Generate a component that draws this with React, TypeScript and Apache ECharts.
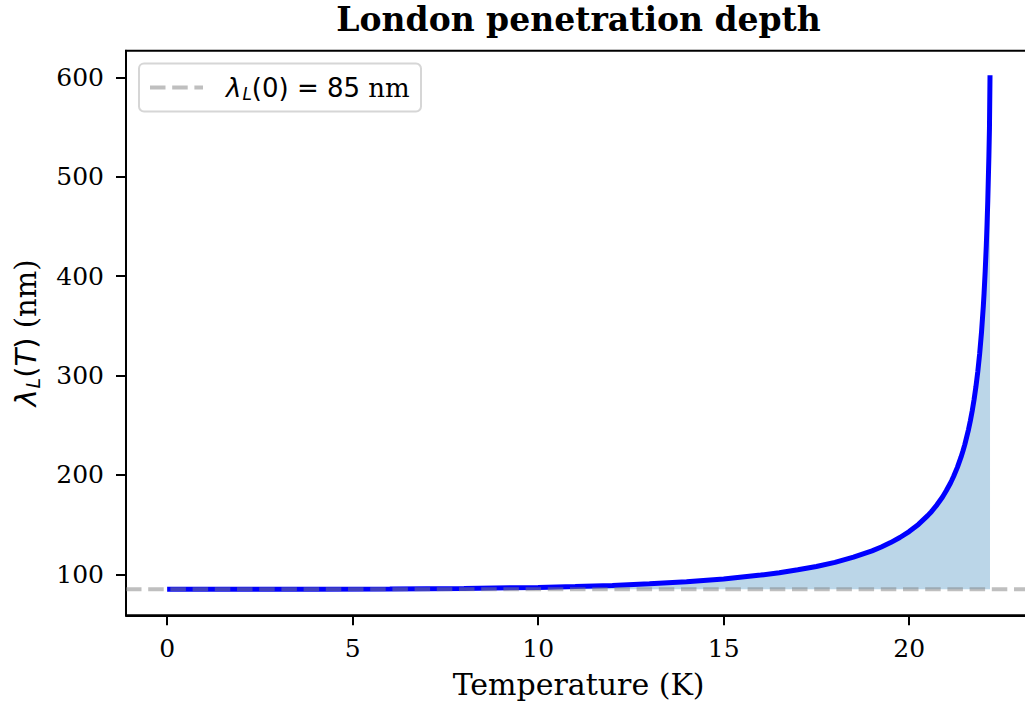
import React, { useEffect, useRef } from "react";
import * as echarts from "echarts";

// Temperature samples (K) and the London penetration depth at each (nm)
const TEMPERATURE_K = [
  0, 2, 4, 6, 8, 10, 11, 12, 13, 14, 15, 16, 16.5, 17, 17.5, 18, 18.5, 19, 19.25,
  19.5, 19.75, 20, 20.25, 20.5, 20.6, 20.75, 20.9, 21, 21.1, 21.15, 21.2, 21.3, 21.4,
  21.45, 21.5, 21.6, 21.65, 21.7, 21.75, 21.8, 21.85, 21.9, 21.95, 22.0, 22.02, 22.05,
  22.08, 22.1, 22.12, 22.15, 22.165, 22.18,
];
const LAMBDA_NM = [
  85, 85, 85.04, 85.2, 85.7, 86.8, 87.6, 88.8, 90.4, 92.5, 95.3, 99.2, 101.6, 104.5,
  107.9, 112, 117.2, 123.6, 127.5, 131.9, 137, 143, 150.2, 159, 163, 169.9, 177.8, 184,
  190.8, 194.6, 198.6, 207.6, 218.1, 224, 230.5, 245.6, 254.4, 264.4, 275.7, 288.7,
  303.8, 321.6, 343.2, 370, 382.8, 405, 431, 452, 475.9, 521, 548.9, 602,
];

// Zero-temperature penetration depth (nm)
const LAMBDA_0 = 85;

const X_TICKS = [0, 5, 10, 15, 20];
const Y_TICKS = [100, 200, 300, 400, 500, 600];
const X_RANGE = [-1.109, 23.29];
const Y_RANGE = [58.75, 626.75];

const TITLE = "London penetration depth";
const X_LABEL = "Temperature (K)";

const SERIF = '"DejaVu Serif", serif';
const SANS = '"DejaVu Sans", sans-serif';

const TICK_SIZE = 25;
const LEGEND_SIZE = 26;
const LABEL_SIZE = 30;
const TITLE_SIZE = 33;

export default function App() {
  const ref = useRef<HTMLDivElement>(null);

  useEffect(() => {
    if (!ref.current) return;
    const chart = echarts.init(ref.current, undefined, { renderer: "svg" });

    const curve = TEMPERATURE_K.map((t, i) => [t, LAMBDA_NM[i]]);
    const baseline = [
      [X_RANGE[0], LAMBDA_0],
      [X_RANGE[1], LAMBDA_0],
    ];

    const gridLeft = 126;
    const gridTop = 50.7;
    const gridBottom = 709 - 615.3;
    const gridWidth = 905.2;
    const gridRight = 1032 - gridLeft - gridWidth;

    const axisLineStyle = { color: "#000", width: 2 };
    const tickLabel = {
      color: "#000",
      fontSize: TICK_SIZE,
      fontFamily: SERIF,
    };

    // math-style pieces: italic symbols, a lowered subscript, upright digits
    const mathRich = (size: number) => ({
      l: { fontFamily: SANS, fontStyle: "italic", fontSize: size, color: "#000" },
      s: {
        fontFamily: SANS,
        fontStyle: "italic",
        fontSize: Math.round(size * 0.66),
        color: "#000",
        padding: [Math.round(size * 0.48), 0, 0, 1],
      },
      m: { fontFamily: SANS, fontSize: size, color: "#000" },
      i: { fontFamily: SANS, fontStyle: "italic", fontSize: size, color: "#000" },
      n: { fontFamily: SERIF, fontSize: size, color: "#000" },
    });

    chart.setOption({
      animation: false,
      backgroundColor: "#fff",
      grid: {
        left: gridLeft,
        top: gridTop,
        right: gridRight,
        bottom: gridBottom,
        show: true,
        borderColor: "#000",
        borderWidth: 2,
        containLabel: false,
      },
      xAxis: {
        type: "value",
        min: X_RANGE[0],
        max: X_RANGE[1],
        axisLine: { show: true, onZero: false, lineStyle: axisLineStyle },
        axisTick: {
          show: true,
          length: 10,
          lineStyle: axisLineStyle,
          customValues: X_TICKS,
        },
        axisLabel: { ...tickLabel, margin: 21, customValues: X_TICKS },
        splitLine: { show: false },
        name: X_LABEL,
        nameLocation: "middle",
        nameGap: 54,
        nameTextStyle: { color: "#000", fontSize: LABEL_SIZE, fontFamily: SERIF },
      },
      yAxis: {
        type: "value",
        min: Y_RANGE[0],
        max: Y_RANGE[1],
        axisLine: { show: true, onZero: false, lineStyle: axisLineStyle },
        axisTick: {
          show: true,
          length: 10,
          lineStyle: axisLineStyle,
          customValues: Y_TICKS,
        },
        axisLabel: { ...tickLabel, margin: 22, customValues: Y_TICKS },
        splitLine: { show: false },
        name: "{l|λ}{s|L}{m|(}{i|T}{m|)}{n| (nm)}",
        nameLocation: "middle",
        nameRotate: 90,
        nameGap: 84,
        nameTextStyle: { color: "#000", fontSize: LABEL_SIZE, rich: mathRich(29) },
      },
      series: [
        {
          name: "depth",
          type: "line",
          data: curve,
          symbol: "none",
          showSymbol: false,
          lineStyle: { color: "#0000ff", width: 5 },
          areaStyle: { origin: LAMBDA_0, color: "rgba(31,119,180,0.3)", opacity: 1 },
          z: 2,
          silent: true,
        },
        {
          name: "λ_L(0)",
          type: "line",
          data: baseline,
          symbol: "none",
          showSymbol: false,
          lineStyle: { color: "rgba(128,128,128,0.5)", width: 4, type: [15.5, 6.7] },
          z: 3,
          silent: true,
        },
      ],
      graphic: [
        {
          type: "text",
          x: gridLeft + gridWidth / 2,
          y: 3,
          style: {
            text: TITLE,
            font: `bold ${TITLE_SIZE}px ${SERIF}`,
            fill: "#000",
            align: "center",
            verticalAlign: "top",
          },
        },
        {
          type: "group",
          children: [
            {
              type: "rect",
              shape: { x: 139, y: 63.5, width: 282, height: 48, r: 5 },
              style: { fill: "rgba(255,255,255,0.8)", stroke: "#d6d6d6", lineWidth: 2 },
            },
            {
              type: "line",
              shape: { x1: 150, y1: 87.5, x2: 203, y2: 87.5 },
              style: { stroke: "rgba(128,128,128,0.5)", lineWidth: 4, lineDash: [15.5, 6.7] },
            },
            {
              type: "text",
              x: 226,
              y: 87.5,
              style: {
                text: "{l|λ}{s|L}{m|(0) = 85}{n| nm}",
                rich: mathRich(LEGEND_SIZE),
                fill: "#000",
                align: "left",
                verticalAlign: "middle",
              },
            },
          ],
        },
      ],
    });

    return () => chart.dispose();
  }, []);

  return (
    <div
      style={{
        position: "fixed",
        left: 0,
        top: 0,
        width: 1025,
        height: 709,
        overflow: "hidden",
        background: "#fff",
      }}
    >
      <div ref={ref} style={{ width: 1032, height: 709 }} />
    </div>
  );
}
